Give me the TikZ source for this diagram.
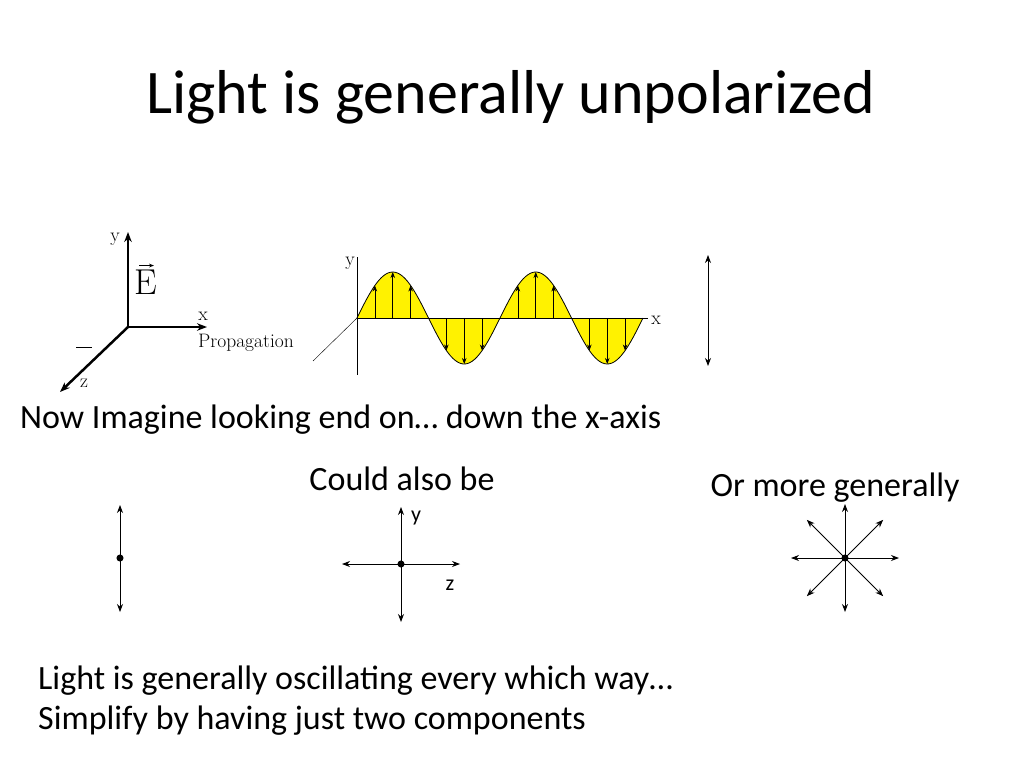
\documentclass[tikz,border=0pt]{standalone}
\usepackage{fontspec}
\setmainfont{Carlito}
\newfontfamily\lmr{Latin Modern Roman}
\usetikzlibrary{arrows.meta}
\begin{document}
\begin{tikzpicture}[x=1pt, y=-1pt,
  txt/.style = {font=\fontsize{34}{40}\selectfont, inner sep=0pt},
  serif/.style = {font=\lmr\fontsize{19.5}{21}\selectfont, inner sep=0pt},
  dbl/.style = {{Stealth[length=8pt]}-{Stealth[length=8pt]}, thick},
  ray/.style = {-{Stealth[length=8pt]}, thick}]
				%	frame
				\useasboundingbox (0, 0) rectangle (1024, 768);
				\node[font=\fontsize{62}{68}\selectfont, inner sep=0pt] (title) at (511, 97) {Light is generally unpolarized};
				
				%	axes
				\coordinate (o) at (128, 327);
				\draw[-{Stealth[length=10pt]}, line width=2.5pt] (o) -- (128, 232) coordinate (yt);
				\draw[-{Stealth[length=10pt]}, line width=2.5pt] (o) -- (207, 327) coordinate (xt);
				\draw[-{Stealth[length=10pt]}, line width=2.5pt] (o) -- (60, 392) coordinate (zt);
				\node[serif] (ylab) at (115, 239) {y};
				\node[serif] (xlab) at (203, 316) {x};
				\node[serif] (zlab) at (84, 383) {z};
				\node[serif, anchor=west] (prop) at (198, 343) {Propagation};
				\draw[semithick] (76, 347) -- (92, 347);
				\node[font=\lmr\fontsize{36}{38}\selectfont, inner sep=0pt] (E) at (146, 282) {E};
				\draw[-{Stealth[length=5pt]}, thick] ([xshift=-7pt, yshift=4pt]E.north) -- ([xshift=8pt, yshift=4pt]E.north);
				
				%	wave
				\def\wl{143}
				\def\amp{46}
				\coordinate (w) at (357, 318);
				\fill[yellow] (357, 318) -- plot[domain=0:286, samples=120] (357+\x, {318-\amp*sin(360/\wl*\x)}) -- cycle;
				\foreach \k in {0.125, 0.25, 0.375, 0.625, 0.75, 0.875, 1.125, 1.25, 1.375, 1.625, 1.75, 1.875}
					\draw[-{Stealth[length=6pt]}, semithick] (357+\k*\wl, 318) -- (357+\k*\wl, {318-\amp*sin(360*\k)});
				\draw[thick] plot[domain=0:286, samples=120] (357+\x, {318-\amp*sin(360/\wl*\x)});
				\draw[semithick] (w) -- (357, 375);
				\draw[semithick] (w) -- (357, 257);
				\draw (w) -- (313, 361);
				\draw[semithick] (w) -- (648, 318);
				\node[serif] (wy) at (350, 263) {y};
				\node[serif] (wx) at (656, 320) {x};
				\draw[dbl] (708, 255) -- (708, 366);
				
				%	texts
				\node[txt, anchor=west] (look) at (20, 420) {Now Imagine looking end on\dots\ down the x-axis};
				\node[txt] (could) at (402, 479) {Could also be};
				\node[txt] (more) at (835, 488) {Or more generally};
				\node[txt, anchor=west, align=left, font=\fontsize{34}{40}\selectfont] (sum) at (38, 701) {Light is generally oscillating every which way\dots\\Simplify by having just two components};
				
				%	end on views
				\node[circle, fill, inner sep=2.5pt] (d1) at (120, 558) {};
				\draw[dbl] (120, 505) -- (120, 612);
				\node[circle, fill, inner sep=2.5pt] (d2) at (401, 564) {};
				\draw[dbl] (342, 564) -- (460, 564);
				\draw[dbl] (401, 507) -- (401, 622);
				\node[font=\fontsize{22}{24}\selectfont] (cy) at (416, 518) {y};
				\node[font=\fontsize{22}{24}\selectfont] (cz) at (450, 585) {z};
				\node[circle, fill, inner sep=2.5pt] (d3) at (845, 558) {};
				\foreach \a in {0, 45, ..., 315}
					\draw[ray] (d3.center) -- ++(\a:54);
\end{tikzpicture}
\end{document}
